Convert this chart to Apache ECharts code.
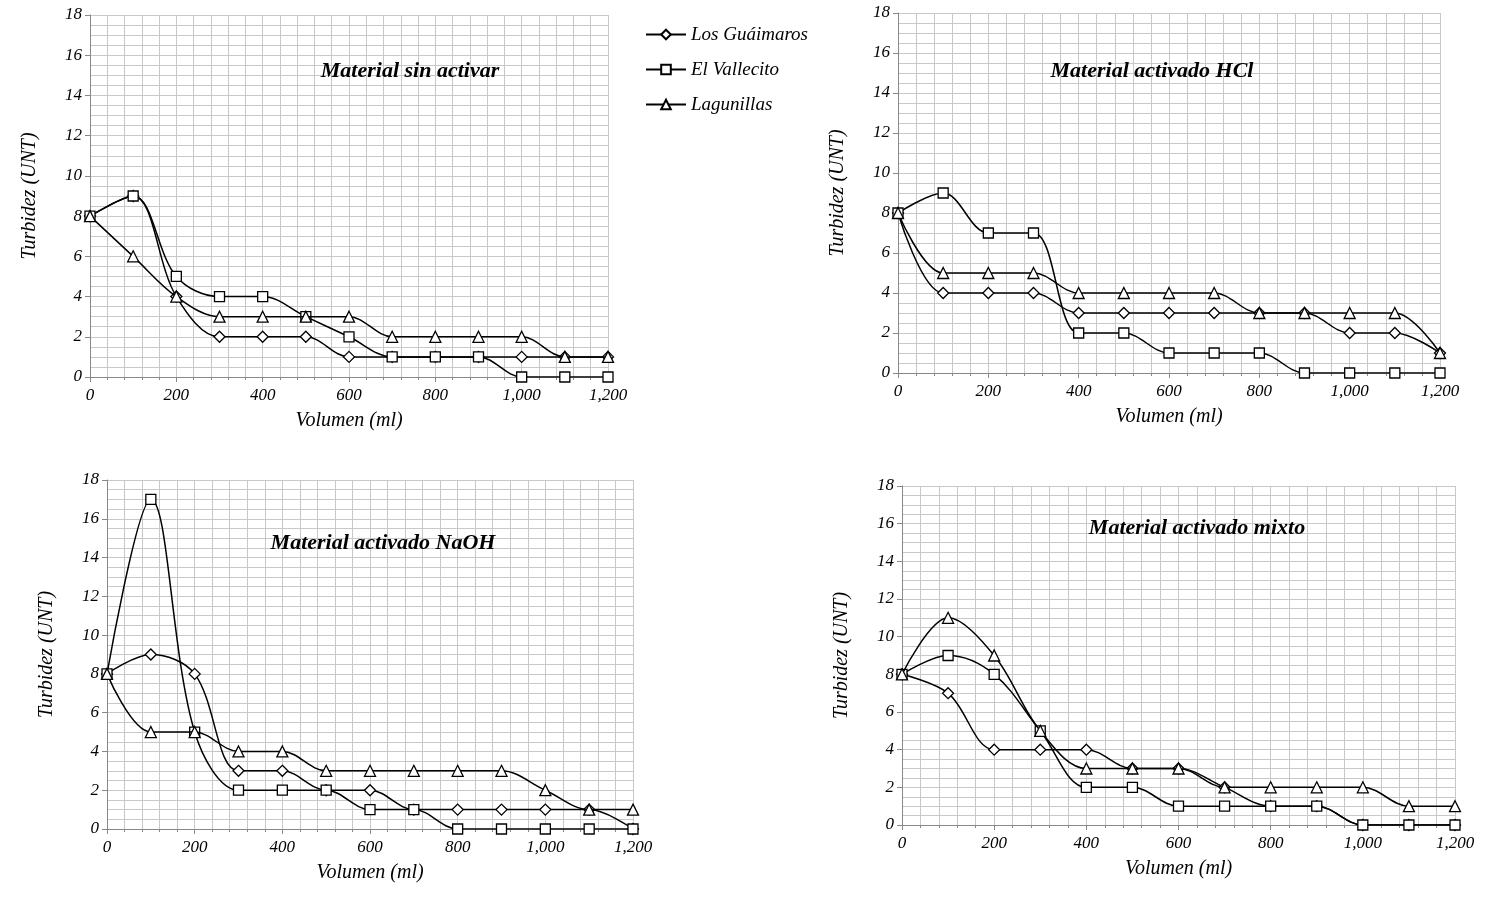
<!DOCTYPE html>
<html>
<head>
<meta charset="utf-8">
<script src="https://cdn.jsdelivr.net/npm/echarts@6/dist/echarts.min.js"></script>
<style>html,body{margin:0;background:#fff}#c{width:1496px;height:912px}</style>
</head>
<body>
<div id="c"></div>
<script>
const volumes = [0, 100, 200, 300, 400, 500, 600, 700, 800, 900, 1000, 1100, 1200];
const seriesNames = ['Los Guáimaros', 'El Vallecito', 'Lagunillas'];
const panelTitles = ['Material sin activar', 'Material activado HCl', 'Material activado NaOH', 'Material activado mixto'];

const sinGuaimaros = [8, 9, 4, 2, 2, 2, 1, 1, 1, 1, 1, 1, 1];
const sinVallecito = [8, 9, 5, 4, 4, 3, 2, 1, 1, 1, 0, 0, 0];
const sinLagunillas = [8, 6, 4, 3, 3, 3, 3, 2, 2, 2, 2, 1, 1];

const hclGuaimaros = [8, 4, 4, 4, 3, 3, 3, 3, 3, 3, 2, 2, 1];
const hclVallecito = [8, 9, 7, 7, 2, 2, 1, 1, 1, 0, 0, 0, 0];
const hclLagunillas = [8, 5, 5, 5, 4, 4, 4, 4, 3, 3, 3, 3, 1];

const naohGuaimaros = [8, 9, 8, 3, 3, 2, 2, 1, 1, 1, 1, 1, 0];
const naohVallecito = [8, 17, 5, 2, 2, 2, 1, 1, 0, 0, 0, 0, 0];
const naohLagunillas = [8, 5, 5, 4, 4, 3, 3, 3, 3, 3, 2, 1, 1];

const mixGuaimaros = [8, 7, 4, 4, 4, 3, 3, 2, 1, 1, 0, 0, 0];
const mixVallecito = [8, 9, 8, 5, 2, 2, 1, 1, 1, 1, 0, 0, 0];
const mixLagunillas = [8, 11, 9, 5, 3, 3, 3, 2, 2, 2, 2, 1, 1];

const panelData = [
  [sinGuaimaros, sinVallecito, sinLagunillas],
  [hclGuaimaros, hclVallecito, hclLagunillas],
  [naohGuaimaros, naohVallecito, naohLagunillas],
  [mixGuaimaros, mixVallecito, mixLagunillas]
];

const grids = [
  { left: 90, top: 15, width: 518, height: 362 },
  { left: 898, top: 13, width: 542, height: 360 },
  { left: 107, top: 480, width: 526, height: 349 },
  { left: 902, top: 486, width: 553, height: 339 }
];
const titlePos = [[405, 55], [1147, 55], [378, 527], [1192, 512]];
const symbols = ['diamond', 'rect', 'triangle'];
const font = 'Liberation Serif';
const txt = { fontFamily: font, fontStyle: 'italic', color: '#000' };

const chart = echarts.init(document.getElementById('c'));
let xAxis = [], yAxis = [], series = [], title = [];
grids.forEach((g, i) => {
  xAxis.push({
    gridIndex: i, type: 'value', min: 0, max: 1200, interval: 200,
    name: 'Volumen (ml)', nameLocation: 'middle', nameGap: 34,
    nameTextStyle: { ...txt, fontSize: 20 },
    axisLabel: { ...txt, fontSize: 17, margin: 10 },
    axisLine: { lineStyle: { color: '#888' } },
    axisTick: { show: true, lineStyle: { color: '#888' } },
    minorTick: { show: true, splitNumber: 5, lineStyle: { color: '#888' } },
    splitLine: { lineStyle: { color: '#c8c8c8' } },
    minorSplitLine: { show: true, lineStyle: { color: '#c8c8c8' } }
  });
  yAxis.push({
    gridIndex: i, type: 'value', min: 0, max: 18, interval: 2,
    name: 'Turbidez (UNT)', nameLocation: 'middle', nameGap: 50,
    nameTextStyle: { ...txt, fontSize: 20 },
    axisLabel: { ...txt, fontSize: 17 },
    axisLine: { show: true, lineStyle: { color: '#888' } },
    axisTick: { show: true, lineStyle: { color: '#888' } },
    splitLine: { lineStyle: { color: '#c8c8c8' } },
    minorSplitLine: { show: true, lineStyle: { color: '#c8c8c8' } },
    minorTick: { show: false, splitNumber: 4 }
  });
  title.push({
    text: panelTitles[i], left: titlePos[i][0], top: titlePos[i][1], textAlign: 'center',
    textStyle: { fontFamily: font, fontStyle: 'italic', fontWeight: 'bold', fontSize: 22, color: '#000' }
  });
  panelData[i].forEach((vals, k) => {
    series.push({
      name: seriesNames[k], type: 'line', smooth: 0.35,
      xAxisIndex: i, yAxisIndex: i,
      data: volumes.map((v, j) => [v, vals[j]]),
      symbol: symbols[k], symbolSize: k === 1 ? 10 : 11,
      lineStyle: { color: '#000', width: 1.5 },
      itemStyle: { color: '#fff', borderColor: '#000', borderWidth: 1.3 },
      z: 3 + k
    });
  });
});

chart.setOption({
  animation: false,
  title,
  grid: grids,
  xAxis, yAxis, series,
  legend: {
    data: seriesNames, orient: 'vertical', left: 640, top: 20, itemGap: 16,
    itemWidth: 40, itemHeight: 12,
    textStyle: { ...txt, fontSize: 19 }
  }
});
</script>
</body>
</html>
